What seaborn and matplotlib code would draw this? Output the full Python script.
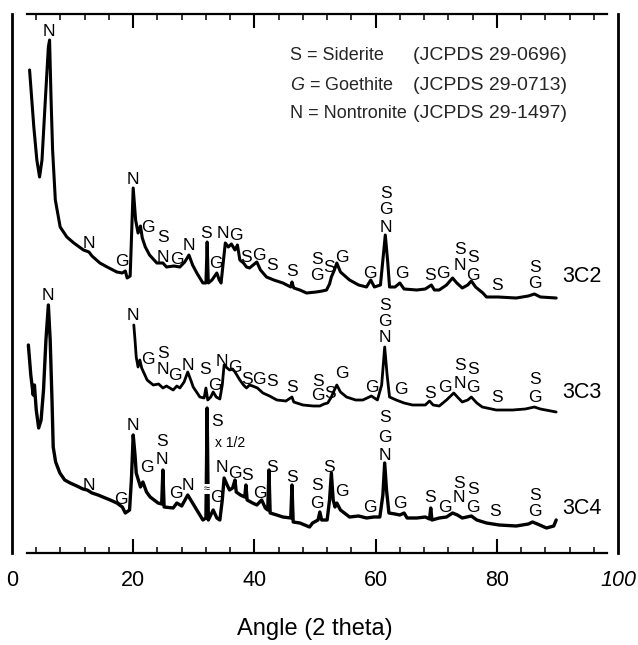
import matplotlib
matplotlib.use("Agg")
import matplotlib.pyplot as plt
import seaborn as sns
import pandas as pd

# ---- data: (2 theta angle, stacked intensity a.u.) ----
trace_3C2 = [
    (2.9, 483), (3.6, 426), (4.1, 393), (4.55, 376), (4.95, 393), (5.5, 453), (6.0, 506),
    (6.2, 513), (6.45, 453), (6.7, 403), (7.15, 353), (7.95, 326), (9.05, 316), (10.2, 310),
    (11.8, 303), (12.7, 301), (13.2, 297), (14.5, 290), (15.7, 286), (17.3, 281), (18.2, 280),
    (18.7, 282), (19.0, 275), (19.5, 277), (20.0, 365), (20.4, 333), (20.8, 320), (21.2, 327),
    (21.5, 315), (22.0, 306), (22.7, 298), (23.9, 290), (24.9, 290), (25.5, 286), (26.7, 287),
    (27.7, 286), (28.5, 291), (29.2, 298), (29.8, 288), (30.5, 280), (31.5, 270), (32.0, 270),
    (32.2, 311), (32.4, 270), (33.0, 273), (33.8, 280), (34.2, 273), (34.5, 270), (35.2, 310),
    (35.7, 306), (36.2, 309), (36.8, 303), (37.2, 308), (37.6, 293), (38.2, 290), (38.7, 286),
    (39.2, 285), (39.8, 288), (40.4, 291), (41.0, 283), (42.0, 276), (43.2, 273), (44.7, 270),
    (46.0, 266), (46.2, 271), (46.5, 265), (47.5, 263), (48.6, 260), (50.2, 261), (51.2, 262),
    (51.9, 263), (52.4, 269), (52.7, 276), (53.2, 283), (53.6, 290), (54.2, 281), (55.7, 273),
    (57.2, 268), (58.5, 266), (59.2, 273), (59.8, 266), (60.8, 268), (61.2, 293), (61.6, 318),
    (62.0, 291), (62.3, 266), (63.2, 266), (64.0, 270), (64.7, 264), (66.8, 263), (68.2, 264),
    (69.2, 268), (69.7, 263), (70.5, 263), (71.7, 268), (72.7, 275), (73.4, 270), (74.3, 265),
    (75.2, 268), (75.8, 272), (76.5, 266), (77.7, 260), (78.3, 256), (80.2, 256), (83.2, 255),
    (85.2, 257), (86.2, 259), (87.2, 256), (89.8, 255),
]

trace_3C3 = [
    (20.1, 228), (20.3, 213), (20.5, 196), (20.8, 186), (21.1, 193), (21.4, 185), (22.3, 173),
    (23.3, 168), (24.2, 169), (24.9, 165), (25.5, 167), (26.6, 163), (27.2, 167), (27.7, 165),
    (28.4, 171), (29.0, 181), (29.5, 173), (29.9, 166), (31.0, 156), (31.7, 155), (32.0, 165),
    (32.3, 153), (32.8, 156), (33.2, 161), (33.7, 156), (34.3, 154), (34.7, 168), (35.0, 188),
    (35.5, 185), (35.9, 183), (36.4, 184), (36.8, 181), (37.2, 177), (37.6, 173), (38.2, 168),
    (38.7, 165), (39.2, 168), (39.7, 167), (40.5, 165), (41.4, 160), (42.5, 157), (43.7, 153),
    (45.2, 152), (46.2, 156), (46.5, 151), (48.0, 148), (49.7, 147), (50.8, 147), (51.5, 149),
    (52.1, 150), (52.7, 156), (53.2, 163), (53.6, 168), (54.2, 161), (55.2, 156), (56.7, 153),
    (57.9, 153), (59.3, 157), (60.3, 153), (61.0, 168), (61.5, 206), (61.9, 178), (62.3, 156),
    (63.4, 153), (64.7, 150), (66.1, 148), (68.2, 148), (68.9, 152), (69.5, 148), (70.5, 147),
    (71.7, 153), (72.9, 160), (73.5, 156), (74.3, 151), (75.2, 153), (75.8, 156), (76.7, 150),
    (77.6, 146), (79.9, 143), (82.6, 143), (84.7, 144), (86.2, 146), (87.2, 144), (89.8, 141),
]

trace_3C4 = [
    (2.7, 208), (3.1, 178), (3.5, 158), (3.7, 168), (4.0, 143), (4.4, 125), (4.8, 133),
    (5.2, 163), (5.6, 213), (6.0, 248), (6.3, 213), (6.6, 153), (6.8, 106), (7.2, 91),
    (7.9, 80), (8.7, 73), (9.6, 70), (10.7, 67), (11.7, 64), (12.4, 63), (13.2, 60),
    (14.2, 58), (15.0, 56), (16.2, 53), (17.3, 50), (18.2, 46), (18.7, 40), (19.4, 43),
    (19.7, 73), (20.0, 118), (20.3, 98), (20.5, 80), (21.2, 66), (21.6, 71), (22.2, 61),
    (22.8, 56), (24.1, 50), (24.7, 49), (24.9, 83), (25.1, 46), (26.6, 45), (27.2, 50),
    (28.0, 47), (29.0, 58), (29.7, 51), (30.5, 43), (31.5, 33), (32.0, 35), (32.2, 145),
    (32.4, 33), (33.2, 43), (33.8, 35), (34.3, 33), (34.7, 53), (35.0, 75), (35.5, 68),
    (35.9, 63), (36.4, 65), (36.8, 73), (37.0, 61), (37.7, 58), (38.4, 56), (38.6, 68),
    (38.8, 53), (39.7, 50), (40.4, 48), (41.2, 53), (41.8, 45), (42.2, 43), (42.4, 83),
    (42.6, 40), (43.7, 38), (44.7, 36), (46.0, 35), (46.2, 68), (46.4, 31), (47.5, 30),
    (49.1, 26), (49.6, 30), (50.5, 33), (50.8, 41), (51.1, 33), (52.0, 33), (52.4, 53),
    (52.7, 80), (53.0, 53), (53.3, 46), (53.6, 50), (54.2, 43), (55.7, 36), (57.2, 37),
    (58.5, 35), (59.7, 36), (60.7, 36), (61.2, 58), (61.5, 90), (61.8, 63), (62.2, 40),
    (63.2, 39), (64.0, 38), (64.7, 40), (65.2, 35), (66.8, 35), (68.2, 36), (68.9, 34),
    (69.1, 45), (69.3, 33), (70.5, 35), (71.7, 36), (72.7, 40), (73.5, 38), (74.3, 35),
    (75.8, 37), (76.7, 33), (78.3, 30), (80.4, 28), (83.2, 27), (85.2, 29), (85.9, 31),
    (86.7, 29), (88.2, 25), (89.4, 27), (89.8, 33),
]

# phase letters placed above peaks: (letter, angle, height)
labels_3C2 = [
    ("N", 6.15, 521), ("N", 12.75, 309), ("G", 18.2, 291), ("N", 20.0, 373), ("G", 22.5, 325),
    ("S", 24.9, 316), ("N", 24.9, 296), ("G", 27.25, 293), ("N", 29.2, 308), ("S", 32.0, 320),
    ("G", 33.7, 290), ("N", 34.8, 320), ("G", 37.0, 318), ("S", 38.6, 296), ("G", 40.8, 298),
    ("S", 42.9, 288), ("S", 46.2, 281), ("S", 50.3, 293), ("G", 50.3, 277), ("S", 52.3, 286),
    ("G", 54.5, 296), ("G", 59.1, 280), ("S", 61.7, 360), ("G", 61.7, 343), ("N", 61.7, 325),
    ("G", 64.3, 280), ("S", 69.0, 278), ("G", 71.1, 280), ("S", 73.9, 303), ("N", 73.9, 288),
    ("S", 76.0, 296), ("G", 76.0, 278), ("S", 80.0, 268), ("S", 86.3, 286), ("G", 86.3, 270),
]
labels_3C3 = [
    ("N", 20.0, 237), ("G", 22.5, 193), ("S", 24.9, 200), ("N", 24.9, 183), ("G", 26.9, 177),
    ("N", 29.1, 188), ("S", 31.9, 183), ("G", 33.5, 168), ("N", 34.7, 191), ("G", 36.8, 185),
    ("S", 38.7, 174), ("G", 40.7, 173), ("S", 42.9, 171), ("S", 46.2, 166), ("S", 50.5, 172),
    ("G", 50.4, 158), ("S", 52.5, 160), ("G", 54.5, 180), ("G", 59.4, 165), ("S", 61.5, 248),
    ("G", 61.5, 231), ("N", 61.5, 215), ("G", 64.2, 163), ("S", 69.0, 160), ("G", 71.4, 166),
    ("S", 73.9, 188), ("N", 73.9, 170), ("S", 76.0, 183), ("G", 76.0, 165), ("S", 80.0, 155),
    ("S", 86.3, 173), ("G", 86.3, 156),
]
labels_3C4 = [
    ("N", 6.0, 258), ("N", 12.75, 67), ("G", 18.0, 54), ("N", 20.0, 128), ("G", 22.3, 86),
    ("S", 24.8, 111), ("N", 24.8, 94), ("G", 27.1, 60), ("N", 29.1, 68), ("S", 33.85, 131),
    ("G", 33.8, 55), ("N", 34.7, 86), ("G", 36.8, 79), ("S", 38.8, 78), ("G", 40.9, 60),
    ("S", 42.9, 85), ("S", 46.2, 76), ("S", 50.3, 67), ("G", 50.3, 50), ("S", 52.3, 86),
    ("G", 54.5, 61), ("G", 59.1, 46), ("S", 61.5, 135), ("G", 61.5, 116), ("N", 61.5, 98),
    ("G", 64.0, 50), ("S", 69.0, 55), ("G", 71.4, 46), ("S", 73.7, 70), ("N", 73.7, 55),
    ("S", 76.0, 63), ("G", 76.0, 46), ("S", 79.7, 41), ("S", 86.3, 58), ("G", 86.3, 41),
]
sample_names = ["3C2", "3C3", "3C4"]
sample_label_height = [276, 161, 45]
legend_phase = ["S = Siderite", "$\\mathit{G}$ = Goethite", "N = Nontronite"]
legend_card = ["(JCPDS 29-0696)", "(JCPDS 29-0713)", "(JCPDS 29-1497)"]
tick_values = [0, 20, 40, 60, 80, 100]
tick_labels = ["0", "20", "40", "60", "80", "100"]

# ---- build long table ----
rows = []
for name, tr in zip(sample_names, [trace_3C2, trace_3C3, trace_3C4]):
    for a, v in tr:
        rows.append({"angle": a, "intensity": v, "sample": name})
df = pd.DataFrame(rows)

sns.set_theme(style="white")
plt.rcParams["font.family"] = ["Liberation Sans", "DejaVu Sans"]
plt.rcParams["mathtext.fontset"] = "custom"
plt.rcParams["mathtext.rm"] = "Liberation Sans"
plt.rcParams["mathtext.it"] = "Liberation Sans:italic"

fig = plt.figure(figsize=(6.38, 6.45), dpi=100)
ax = fig.add_axes([12 / 638, 92 / 645, 606 / 638, 539 / 645])

line_widths = {"3C2": 2.2, "3C3": 2.0, "3C4": 2.4}
for name in sample_names:
    sns.lineplot(data=df[df["sample"] == name], x="angle", y="intensity",
                 estimator=None, sort=False, color="black",
                 linewidth=line_widths[name], ax=ax, legend=False)

ax.set_xlim(0, 100)
ax.set_ylim(0, 539)

# peak labels
for lab in (labels_3C2, labels_3C3, labels_3C4):
    for letter, a, h in lab:
        ax.text(a, h, letter, ha="center", va="center", fontsize=12.5, color="black")

# x 1/2 note and break mark on the big siderite peak of 3C4
ax.text(36.0, 110, "x 1/2", ha="center", va="center", fontsize=10, color="black")
ax.text(32.2, 64, "\u2248", ha="center", va="center", fontsize=8, color="black",
        bbox=dict(facecolor="white", edgecolor="none", pad=0.1))

for name, h in zip(sample_names, sample_label_height):
    ax.text(94.0, h, name, ha="center", va="center", fontsize=15.5, color="black")

# legend block
leg_h = [498, 468, 440]
for h, p, c in zip(leg_h, legend_phase, legend_card):
    ax.text(45.9, h, p, ha="left", va="center", fontsize=13)
    ax.text(91.6, h, c, ha="right", va="center", fontsize=14)

# axes styling
for s in ["left", "right"]:
    ax.spines[s].set_linewidth(2.0)
    ax.spines[s].set_color("black")
for s in ["top", "bottom"]:
    ax.spines[s].set_linewidth(1.6)
    ax.spines[s].set_color("black")
    ax.spines[s].set_bounds(2.4, 98.2)

ax.set_xticks(tick_values, labels=tick_labels)
ax.set_xticks([v for v in range(4, 100, 4) if v % 20 != 0], minor=True)
ax.set_yticks([])
ax.tick_params(axis="x", which="major", direction="in", length=10, width=1.5,
               top=True, bottom=True, labelsize=15.5, pad=12, colors="black")
ax.tick_params(axis="x", which="minor", direction="in", length=4.5, width=1.3,
               top=True, bottom=True)
mt = ax.xaxis.get_major_ticks()
for t in (mt[0], mt[-1]):
    t.tick1line.set_visible(False)
    t.tick2line.set_visible(False)
ax.get_xticklabels()[-1].set_fontstyle("italic")

ax.set_xlabel("Angle (2 theta)", fontsize=17, labelpad=20, color="black")
ax.set_ylabel("")
ax.grid(False)

fig.savefig("out.png", dpi=100)
